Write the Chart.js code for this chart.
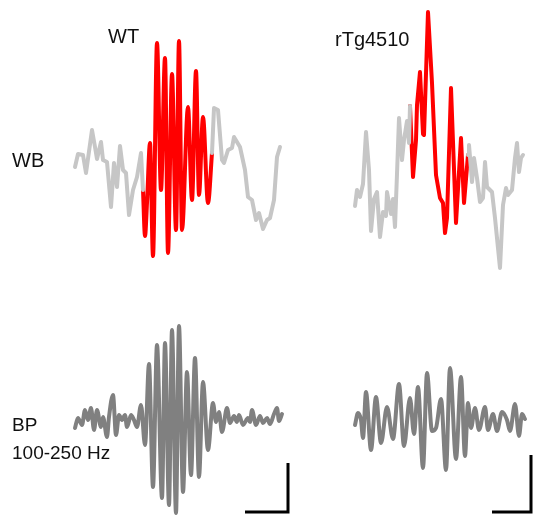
<!DOCTYPE html>
<html>
<head>
<meta charset="utf-8">
<script src="https://cdn.jsdelivr.net/npm/chart.js@4"></script>
<style>
  body { margin: 0; background: #fff; }
  #wrap { position: relative; width: 533px; height: 516px; }
  #traces { position: absolute; left: 0; top: 0; }
  .lbl { position: absolute; font-family: "Liberation Sans", Arial, sans-serif; font-size: 20px; color: #111; line-height: 1; white-space: nowrap; }
</style>
</head>
<body>
<div id="wrap">
  <canvas id="traces" width="533" height="516"></canvas>
  <div class="lbl" style="left:108px; top:26px;">WT</div>
  <div class="lbl" style="left:335px; top:29px;">rTg4510</div>
  <div class="lbl" style="left:12px; top:150px;">WB</div>
  <div class="lbl" style="left:12px; top:415px; font-size:19px;">BP</div>
  <div class="lbl" style="left:12px; top:443px; font-size:19px;">100-250 Hz</div>
</div>
<script>
// wideband, WT (time in samples, amplitude in a.u.)
const wbWtTime = [0,3,8,11,17,20,22,26,28,32,36,39,42,45,48,51,54,58,62,66,68,70,72,75,78,82,86,90,93,97,101,104,107,113,117,121,124,128,133,137,139,143,147,149,153,157,159,165,170,173,177,181,184,188,192,195,199,202,205];
const wbWtAmp = [-7,6,5,-13,30,13,1,18,0,-2,-47,-3,-27,14,-10,-13,-55,-30,-17,7,-30,-76,-43,17,-96,117,-30,102,-93,86,-70,119,-70,53,-40,89,-35,43,-43,7,52,50,0,-3,10,12,23,13,-10,-37,-40,-60,-53,-69,-60,-58,-40,3,13];
const wbWtRipple = [68, 137];

// wideband, rTg4510
const wbTgTime = [0,2,5,8,11,14,16,19,22,25,28,31,32,36,38,40,42,44,47,49,52,54,55,58,61,62,65,68,69,73,77,81,85,88,90,92,96,101,106,109,113,114,117,119,122,125,128,130,132,137,140,143,145,148,151,153,157,160,162,164,166,168];
const wbTgAmp = [-26,-10,-17,-4,48,10,-51,-19,-12,-57,-32,-36,-12,-34,-19,-47,6,62,20,40,59,37,74,3,40,75,108,46,45,168,97,5,-18,-23,-53,-38,92,-43,42,-23,25,35,-2,22,2,-22,-18,18,-7,-12,-38,-68,-88,-25,-8,-15,-10,22,37,8,22,25];
const wbTgRipple = [55, 113];

// band-pass 100-250 Hz, WT
const bpWtTime = [0,3,7,10,13,16,19,22,26,28,32,34,38,41,44,47,50,52,56,59,62,66,70,74,78,82,87,90,94,97,101,104,108,112,116,120,124,128,133,138,141,144,147,152,155,159,162,164,168,173,175,177,181,185,188,192,195,199,202,204,207];
const bpWtAmp = [-8,2,-5,10,0,12,-10,10,-7,3,-17,3,25,-15,5,0,5,-7,5,0,-7,15,-25,56,-67,75,-78,77,-85,90,-93,94,-72,48,-55,62,-57,38,-30,17,-2,8,-12,12,-3,4,-2,5,-5,2,-2,10,-5,4,-3,2,-4,6,12,-1,6];

// band-pass 100-250 Hz, rTg4510
const bpTgTime = [0,3,6,8,11,16,21,26,32,38,44,49,55,59,63,68,72,77,81,86,91,95,101,106,110,113,116,120,124,130,133,138,142,147,152,155,160,164,167,170];
const bpTgAmp = [-5,7,0,-18,28,-30,23,-23,13,-19,36,-26,22,-14,33,-48,47,-11,-8,21,-50,52,-39,43,-36,17,-8,12,-10,13,-10,6,-11,8,0,-11,16,-16,6,1];

// scale bars [time, amplitude]
const barWt = [43, 49];
const barTg = [39, 57];

// panel placement on the page
const panels = {
  wbWt: { x0: 75, base: 160 },
  wbTg: { x0: 355, base: 180 },
  bpWt: { x0: 75, base: 420 },
  bpTg: { x0: 355, base: 420 },
  barWt: { x0: 288, base: 512 },
  barTg: { x0: 531, base: 512 }
};

const GRAY_WB = '#c6c6c6';
const GRAY_BP = '#808080';
const RED = '#ff0000';

function pts(time, amp, p, lo = -Infinity, hi = Infinity) {
  const out = [];
  time.forEach((t, i) => {
    if (t >= lo && t <= hi) out.push({ x: p.x0 + t, y: p.base - amp[i] });
  });
  return out;
}

function line(data, color, width, smooth) {
  return {
    data, showLine: true, borderColor: color, borderWidth: width,
    pointRadius: 0, fill: false, clip: false,
    borderJoinStyle: 'round', borderCapStyle: 'round',
    tension: smooth ? 0.4 : 0,
    cubicInterpolationMode: smooth ? 'monotone' : 'default'
  };
}

function bar(b, p) {
  return [
    { x: p.x0 - b[0], y: p.base },
    { x: p.x0, y: p.base },
    { x: p.x0, y: p.base - b[1] }
  ];
}

const datasets = [
  line(pts(wbWtTime, wbWtAmp, panels.wbWt, -Infinity, wbWtRipple[0]), GRAY_WB, 4, false),
  line(pts(wbWtTime, wbWtAmp, panels.wbWt, wbWtRipple[1], Infinity), GRAY_WB, 4, false),
  line(pts(wbWtTime, wbWtAmp, panels.wbWt, wbWtRipple[0], wbWtRipple[1]), RED, 4, true),
  line(pts(wbTgTime, wbTgAmp, panels.wbTg, -Infinity, wbTgRipple[0]), GRAY_WB, 4, false),
  line(pts(wbTgTime, wbTgAmp, panels.wbTg, wbTgRipple[1], Infinity), GRAY_WB, 4, false),
  line(pts(wbTgTime, wbTgAmp, panels.wbTg, wbTgRipple[0], wbTgRipple[1]), RED, 4, false),
  line(pts(bpWtTime, bpWtAmp, panels.bpWt), GRAY_BP, 4, true),
  line(pts(bpTgTime, bpTgAmp, panels.bpTg), GRAY_BP, 4, true),
  line(bar(barWt, panels.barWt), '#000', 3, false),
  line(bar(barTg, panels.barTg), '#000', 3, false)
];
datasets.forEach(d => { if (d.borderColor === '#000') { d.borderCapStyle = 'butt'; d.borderJoinStyle = 'miter'; } });

new Chart(document.getElementById('traces'), {
  type: 'scatter',
  data: { datasets },
  options: {
    responsive: false,
    animation: false,
    devicePixelRatio: 1,
    layout: { padding: 0 },
    plugins: { legend: { display: false }, tooltip: { enabled: false } },
    scales: {
      x: { type: 'linear', min: 0, max: 533, display: false },
      y: { type: 'linear', min: 0, max: 516, reverse: true, display: false }
    }
  }
});
</script>
</body>
</html>
